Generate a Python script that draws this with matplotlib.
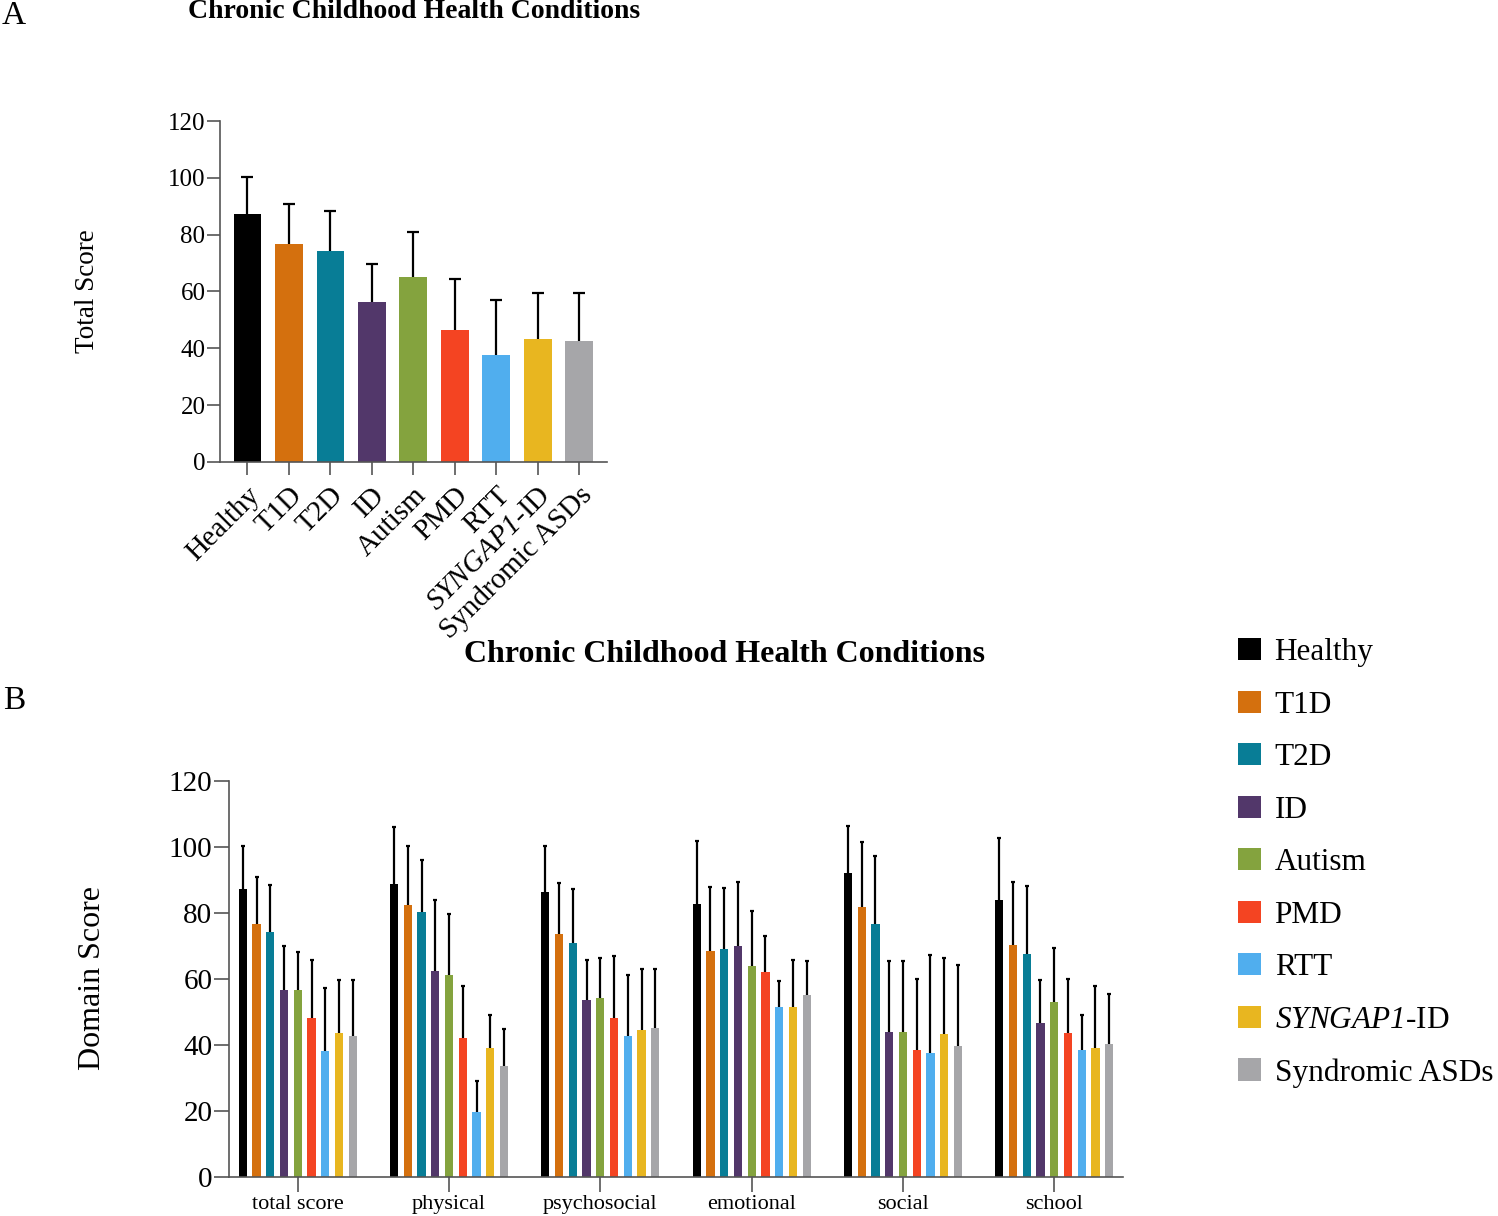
import numpy as np
import matplotlib
matplotlib.use("Agg")
import matplotlib.pyplot as plt
from matplotlib.patches import Patch

plt.rcParams['font.family'] = ['Liberation Serif', 'DejaVu Serif']
# mathrm is pointed at the italic face so the gene name (digit included) is italic
plt.rcParams['mathtext.fontset'] = 'custom'
plt.rcParams['mathtext.rm'] = 'Liberation Serif:italic'
plt.rcParams['mathtext.it'] = 'Liberation Serif:italic'

groups = ['Healthy', 'T1D', 'T2D', 'ID', 'Autism', 'PMD', 'RTT',
          '$\\mathrm{SYNGAP1}$-ID', 'Syndromic ASDs']
colors = ['#000000', '#D4700E', '#087D96', '#52376A', '#84A33E',
          '#F44422', '#50AEEE', '#E8B620', '#A6A6A9']

# panel A: total score (mean and top of error bar)
total_mean = [87.1, 76.6, 74.1, 56.4, 65.0, 46.6, 37.8, 43.4, 42.7]
total_upper = [100.3, 90.7, 88.3, 69.8, 81.0, 64.3, 57.1, 59.4, 59.4]

# panel B: domain scores, one row per domain, one column per group
domains = ['total score', 'physical', 'psychosocial', 'emotional', 'social', 'school']
domain_mean = [
    [87.1, 76.6, 74.2, 56.6, 56.6, 48.0, 38.0, 43.4, 42.7],
    [88.6, 82.2, 80.3, 62.2, 61.1, 41.9, 19.6, 38.9, 33.5],
    [86.2, 73.4, 70.9, 53.5, 54.1, 48.0, 42.6, 44.5, 45.1],
    [82.5, 68.4, 69.1, 69.9, 63.8, 62.0, 51.4, 51.4, 55.0],
    [92.0, 81.7, 76.5, 43.8, 43.9, 38.3, 37.6, 43.1, 39.7],
    [83.9, 70.1, 67.5, 46.6, 52.8, 43.4, 38.4, 38.9, 40.1],
]
domain_upper = [
    [100.3, 90.9, 88.4, 70.0, 68.1, 65.7, 57.3, 59.5, 59.5],
    [105.9, 100.3, 95.9, 83.7, 79.7, 57.7, 29.0, 48.9, 44.7],
    [100.1, 88.9, 87.2, 65.8, 66.2, 66.9, 61.1, 63.0, 63.0],
    [101.8, 87.8, 87.6, 89.3, 80.6, 73.0, 59.3, 65.8, 65.4],
    [106.3, 101.5, 97.3, 65.3, 65.4, 59.9, 67.3, 66.4, 64.3],
    [102.5, 89.2, 88.0, 59.6, 69.3, 59.9, 49.1, 57.8, 55.4],
]

W, H = 1498, 1216
fig = plt.figure(figsize=(W / 100, H / 100), dpi=100)


def style_axis(ax, ticklen, labelsize):
    for side in ['top', 'right']:
        ax.spines[side].set_visible(False)
    for side in ['left', 'bottom']:
        ax.spines[side].set_color('#555555')
        ax.spines[side].set_linewidth(1.2)
    ax.tick_params(direction='out', length=ticklen, width=1.2, color='#555555',
                   labelsize=labelsize, pad=1)
    ax.set_ylim(0, 120)
    ax.set_yticks(np.arange(0, 121, 20))


def up_errorbars(ax, x, mean, upper, capsize, lw):
    mean = np.asarray(mean)
    upper = np.asarray(upper)
    _, caps, _ = ax.errorbar(x, mean, yerr=[np.zeros_like(mean), upper - mean],
                             fmt='none', ecolor='black', elinewidth=lw,
                             capsize=capsize, capthick=lw, zorder=3)
    caps[0].set_visible(False)  # no cap at the bar top


# ---- panel A ----
axA = fig.add_axes([220 / W, 1 - 462 / H, 387 / W, 341 / H])
xa = np.arange(len(groups))
axA.bar(xa, total_mean, width=0.667, color=colors, zorder=2)
up_errorbars(axA, xa, total_mean, total_upper, 4, 1.6)
style_axis(axA, 9.5, 18)
axA.set_xlim(-0.66, 8.67)
axA.set_xticks(xa)
axA.set_xticklabels(groups, rotation=45, ha='right', va='top',
                    rotation_mode='anchor', fontsize=21)
axA.tick_params(axis='x', pad=5)
fig.text(88 / W, 1 - 291 / H, 'Total Score', rotation=90, ha='center',
         va='center', fontsize=19.5)
fig.text(414 / W, 1 - 12 / H, 'Chronic Childhood Health Conditions',
         ha='center', va='center', fontsize=20, fontweight='bold')
fig.text(14 / W, 1 - 16 / H, 'A', ha='center', va='center', fontsize=24)

# ---- panel B ----
axB = fig.add_axes([229 / W, 1 - 1176.7 / H, 894 / W, 396 / H])
step = 11
for d in range(len(domains)):
    xb = d * step + np.arange(len(groups)) - 4
    axB.bar(xb, domain_mean[d], width=0.6, color=colors, zorder=2)
    up_errorbars(axB, xb, domain_mean[d], domain_upper[d], 1.6, 1.6)
style_axis(axB, 11, 21)
axB.set_xlim(-5, 60)
axB.set_xticks(np.arange(len(domains)) * step)
axB.set_xticklabels(domains, fontsize=16)
axB.tick_params(axis='x', pad=2)
fig.text(92 / W, 1 - 978 / H, 'Domain Score', rotation=90, ha='center',
         va='center', fontsize=23)
fig.text(724 / W, 1 - 654 / H, 'Chronic Childhood Health Conditions',
         ha='center', va='center', fontsize=23, fontweight='bold')
fig.text(14 / W, 1 - 701 / H, 'B', ha='center', va='center', fontsize=24)

handles = [Patch(facecolor=c, edgecolor='none') for c in colors]
fig.legend(handles, groups, loc='upper left',
           bbox_to_anchor=(1238 / W, 1 - 638 / H), frameon=False,
           fontsize=22.5, handlelength=0.72, handleheight=0.72,
           handletextpad=0.45, labelspacing=0.75, borderpad=0,
           borderaxespad=0)

fig.savefig('out.png', dpi=100)
